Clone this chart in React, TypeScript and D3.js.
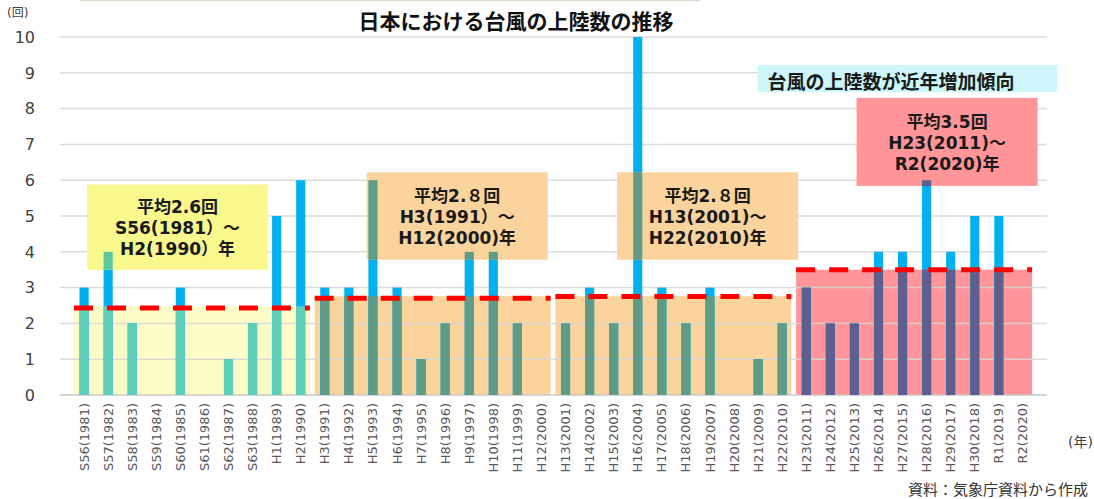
import React from "react";
import * as d3 from "d3";

// landfall counts per year (気象庁)
const years = [
  "S56(1981)", "S57(1982)", "S58(1983)", "S59(1984)", "S60(1985)",
  "S61(1986)", "S62(1987)", "S63(1988)", "H1(1989)", "H2(1990)",
  "H3(1991)", "H4(1992)", "H5(1993)", "H6(1994)", "H7(1995)",
  "H8(1996)", "H9(1997)", "H10(1998)", "H11(1999)", "H12(2000)",
  "H13(2001)", "H14(2002)", "H15(2003)", "H16(2004)", "H17(2005)",
  "H18(2006)", "H19(2007)", "H20(2008)", "H21(2009)", "H22(2010)",
  "H23(2011)", "H24(2012)", "H25(2013)", "H26(2014)", "H27(2015)",
  "H28(2016)", "H29(2017)", "H30(2018)", "R1(2019)", "R2(2020)",
];
const counts = [
  3, 4, 2, 0, 3, 0, 1, 2, 5, 6,
  3, 3, 6, 3, 1, 2, 4, 4, 2, 0,
  2, 3, 2, 10, 3, 2, 3, 0, 1, 2,
  3, 2, 2, 4, 4, 6, 4, 5, 5, 0,
];
const yTicks = [0, 1, 2, 3, 4, 5, 6, 7, 8, 9, 10];

// ten-year periods
const periodFirst = ["S56(1981)", "H3(1991)", "H13(2001)", "H23(2011)"];
const periodLast = ["H2(1990)", "H12(2000)", "H22(2010)", "R2(2020)"];
const periodShade = [2.48, 2.76, 2.76, 3.5]; // height of the shaded band as drawn
const periodDash = [2.43, 2.7, 2.75, 3.5]; // red dashed average line as drawn
const noteLines = [
  ["平均2.6回", "S56(1981）～", "H2(1990）年"],
  ["平均2.８回", "H3(1991）～", "H12(2000)年"],
  ["平均2.８回", "H13(2001)～", "H22(2010)年"],
  ["平均3.5回", "H23(2011)～", "R2(2020)年"],
];
const noteTop = [5.88, 6.22, 6.22, 8.3];
const noteBottom = [3.5, 3.78, 3.78, 5.84];
const noteCenter = [3.88, 15.5, 25.9, 35.85]; // in bar steps from the first bar

const W = 1094;
const H = 499;
const BLUE = "#00b0f0";
const shadeFill = ["#fdfcc6", "#fad49c", "#fad49c", "#ff9598"];
const noteFill = ["#f8f88c", "#fad49c", "#fad49c", "#ff9598"];
const barTint = ["#5ed0b8", "#5e9c88", "#5e9c88", "#5d5f8e"];
const noteTint = ["#5cc8a0", "#5e9c88", "#5e9c88", "#5d5f8e"];
const FONT = "'DejaVu Sans', 'Noto Sans CJK JP', sans-serif";
const JP = "'Noto Sans CJK JP', sans-serif";

export default function App() {
  const x = d3
    .scaleBand()
    .domain(years)
    .range([60, 1047])
    .paddingInner(0.62)
    .paddingOuter(0.81);
  const y = d3.scaleLinear().domain([0, 10]).range([395, 37]);
  const bw = x.bandwidth();
  const step = x.step();
  const cx = (k) => x(k) + bw / 2;
  const atStep = (i) => cx(years[0]) + i * step;

  const shades = periodFirst.map((f, i) => ({
    x0: cx(f) - 0.42 * step,
    x1: cx(periodLast[i]) + 0.38 * step,
    top: periodShade[i],
    dash: periodDash[i],
  }));
  const notes = noteLines.map((lines, i) => ({
    x0: atStep(noteCenter[i]) - 3.76 * step,
    x1: atStep(noteCenter[i]) + 3.76 * step,
    y0: y(noteTop[i]),
    y1: y(noteBottom[i]),
    lines,
  }));

  const bars = (fill) =>
    years.map((k, i) => (
      <rect key={k} x={x(k)} width={bw} y={y(counts[i])} height={y(0) - y(counts[i])} fill={fill} />
    ));

  const trendX = atStep(34.2) - 6.23 * step;

  return (
    <svg
      width={W}
      height={H}
      style={{ position: "absolute", left: 0, top: 0, background: "#fff" }}
      fontFamily={FONT}
    >
      <defs>
        {shades.map((s, i) => (
          <clipPath id={`shade${i}`} key={i}>
            <rect x={s.x0} width={s.x1 - s.x0} y={y(s.top)} height={y(0) - y(s.top)} />
          </clipPath>
        ))}
        {notes.map((n, i) => (
          <clipPath id={`note${i}`} key={i}>
            <rect x={n.x0} width={n.x1 - n.x0} y={n.y0} height={n.y1 - n.y0} />
          </clipPath>
        ))}
      </defs>

      <line x1={80} x2={700} y1={0.5} y2={0.5} stroke="#e2dbd0" strokeWidth={1.5} />

      {/* title */}
      <text x={516} y={29} textAnchor="middle" fontSize={21} fontWeight="bold" fill="#111" fontFamily={JP}>
        日本における台風の上陸数の推移
      </text>

      {/* shaded periods */}
      {shades.map((s, i) => (
        <rect key={i} x={s.x0} width={s.x1 - s.x0} y={y(s.top)} height={y(0) - y(s.top)} fill={shadeFill[i]} />
      ))}

      {/* grid */}
      {yTicks.map((t) => (
        <line key={t} x1={60} x2={1047} y1={y(t)} y2={y(t)}
          stroke={t === 0 ? "#c8c8c8" : "#d6d6d6"} strokeWidth={1.5} strokeOpacity={t === 0 ? 1 : 0.85} />
      ))}
      {yTicks.map((t) => (
        <text key={t} x={35} y={y(t)} dy="0.36em" textAnchor="end" fontSize={16} fill="#404040">
          {t}
        </text>
      ))}
      <text x={7} y={17} fontSize={12} fill="#404040">(回)</text>

      {/* bars */}
      <g>{bars(BLUE)}</g>
      {shades.map((s, i) => (
        <g key={i} clipPath={`url(#shade${i})`}>{bars(barTint[i])}</g>
      ))}

      {/* average lines */}
      {shades.map((s, i) => (
        <line key={i} x1={s.x0} x2={s.x1} y1={y(s.dash)} y2={y(s.dash)}
          stroke="#ff0000" strokeWidth={5} strokeDasharray="19 14" />
      ))}

      {/* x labels */}
      {years.map((k) => (
        <text key={k} x={cx(k)} y={403} dy="0.35em" textAnchor="end" fontSize={13} fill="#595959"
          transform={`rotate(-90, ${cx(k)}, 403)`}>
          {k}
        </text>
      ))}
      <text x={1068} y={447} fontSize={14} fill="#404040">(年)</text>

      {/* period notes */}
      {notes.map((n, i) => (
        <g key={i}>
          <rect x={n.x0} width={n.x1 - n.x0} y={n.y0} height={n.y1 - n.y0} fill={noteFill[i]} />
          <g clipPath={`url(#note${i})`}>{bars(noteTint[i])}</g>
          {n.lines.map((l, j) => (
            <text key={j} x={(n.x0 + n.x1) / 2} y={(n.y0 + n.y1) / 2 + 7 + (j - 1) * 21}
              textAnchor="middle" fontSize={17} fontWeight="bold" fill="#1a1a1a">
              {l}
            </text>
          ))}
        </g>
      ))}

      {/* trend note */}
      <rect x={trendX} width={12.46 * step} y={y(9.22)} height={y(8.46) - y(9.22)} fill="#cdf7fa" />
      <text x={trendX + 10} y={y(8.55)} fontSize={19} fontWeight="bold" fill="#1a1a1a" fontFamily={JP}>
        台風の上陸数が近年増加傾向
      </text>

      <text x={1088} y={495} textAnchor="end" fontSize={15} fill="#333" fontFamily={JP}>
        資料：気象庁資料から作成
      </text>
    </svg>
  );
}
